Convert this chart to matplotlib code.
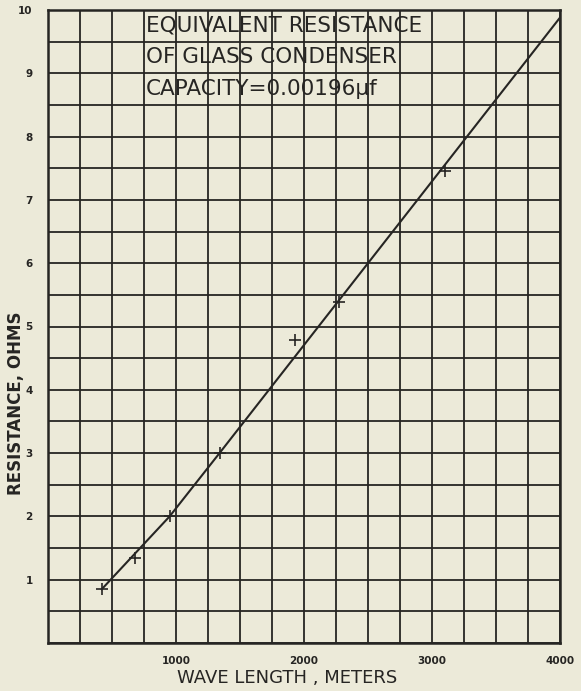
import matplotlib
matplotlib.use("Agg")
import matplotlib.pyplot as plt
import numpy as np

# measured points: wave length (m) vs equivalent resistance (ohms)
wave_length = [420, 680, 950, 1340, 1930, 2270, 3100]
resistance = [0.86, 1.35, 2.0, 3.0, 4.78, 5.38, 7.45]

# ruled line through the points (as drawn on the sheet)
line_x = [420, 950, 1340, 4000]
line_y = [0.85, 2.0, 3.0, 9.88]

x_ticks = np.arange(0, 4001, 250)
x_labels = [str(int(v)) if v > 0 and v % 1000 == 0 else "" for v in x_ticks]
y_ticks = np.arange(0, 10.01, 0.5)
y_labels = [str(int(v)) if v > 0 and v == int(v) else "" for v in y_ticks]

title_lines = ["EQUIVALENT RESISTANCE",
               "OF GLASS CONDENSER",
               "CAPACITY=0.00196µf"]

paper = "#ecead9"
ink = "#262523"

fig = plt.figure(figsize=(5.81, 6.91), dpi=100, facecolor=paper)
ax = fig.add_axes([48 / 581, 1 - 643 / 691, 512 / 581, 633 / 691])
ax.set_facecolor(paper)

ax.set_xlim(0, 4000)
ax.set_ylim(0, 10)
ax.set_xticks(x_ticks)
ax.set_xticklabels(x_labels)
ax.set_yticks(y_ticks)
ax.set_yticklabels(y_labels)
ax.tick_params(length=0, colors=ink, labelsize=7.5)
ax.tick_params(axis="x", pad=9)
ax.tick_params(axis="y", pad=11)
for lbl in ax.get_xticklabels() + ax.get_yticklabels():
    lbl.set_fontweight("bold")

ax.grid(True, color=ink, linewidth=1.3)
ax.set_axisbelow(True)
for sp in ax.spines.values():
    sp.set_color(ink)
    sp.set_linewidth(1.8)

ax.plot(line_x, line_y, color=ink, linewidth=1.5, zorder=3)
ax.plot(wave_length, resistance, linestyle="none", marker="+",
        markersize=9, markeredgewidth=1.2, color=ink, zorder=4)

for i, txt in enumerate(title_lines):
    ax.text(765, 9.75 - 0.5 * i, txt, fontsize=15.5, color=ink,
            va="center", ha="left", zorder=5)

fig.text(287 / 581, 1 - 678 / 691, "WAVE LENGTH , METERS",
         fontsize=13, color=ink, ha="center", va="center")
fig.text(16 / 581, 1 - 403 / 691, "RESISTANCE, OHMS", rotation=90,
         fontsize=12, fontweight="bold", color=ink, ha="center", va="center")

fig.savefig("out.png", dpi=100, facecolor=paper)
